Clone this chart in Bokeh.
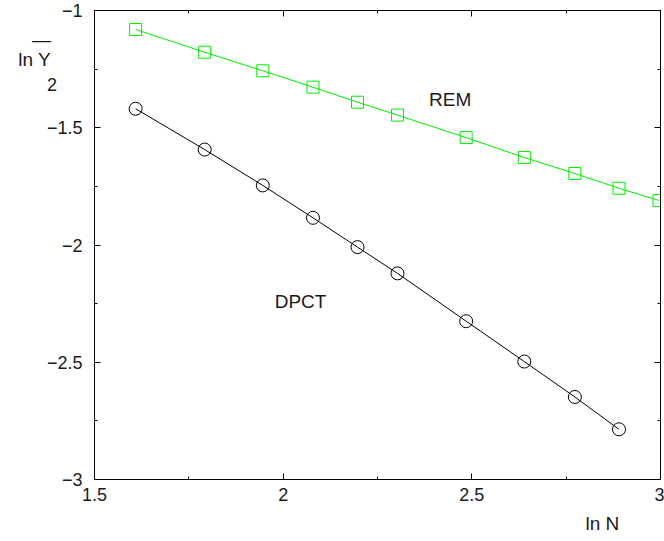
from bokeh.plotting import figure
from bokeh.models import (SingleIntervalTicker, LinearAxis, Label,
                          Range1d, ColumnDataSource, CustomJSTickFormatter, Title)
from bokeh.embed import file_html
from bokeh.resources import INLINE

# ---- data ----
ln_n_rem = [1.609, 1.792, 1.946, 2.079, 2.197, 2.303, 2.485, 2.639, 2.773, 2.890, 2.996]
ln_y2_rem = [-1.081, -1.178, -1.257, -1.327, -1.391, -1.446, -1.542, -1.627, -1.695, -1.758, -1.810]
ln_n_dpct = [1.609, 1.792, 1.946, 2.079, 2.197, 2.303, 2.485, 2.639, 2.773, 2.890]
ln_y2_dpct = [-1.419, -1.593, -1.746, -1.884, -2.009, -2.121, -2.325, -2.497, -2.648, -2.786]

x_ticks = [1.5, 2.0, 2.5, 3.0]
x_tick_labels = ["1.5", "2", "2.5", "3"]
y_ticks = [-3.0, -2.5, -2.0, -1.5, -1.0]
y_tick_labels = ["\u22123", "\u22122.5", "\u22122", "\u22121.5", "\u22121"]

series_rem = "REM"
series_dpct = "DPCT"
x_title = "ln N"
y_title = "\u2014\nln Y"   # bar over the Y, then "ln Y"
y_title_sub = "2"

FONT = "Liberation Sans"
TXT = "#1a1a1a"

p = figure(width=664, height=541, output_backend="svg", toolbar_location=None,
           x_range=Range1d(1.5, 3.0), y_range=Range1d(-3.0, -1.0),
           x_axis_location=None, y_axis_location=None,
           min_border_left=94, min_border_right=4, min_border_top=10,
           min_border_bottom=10)
p.grid.visible = False
p.outline_line_color = "#555555"
p.outline_line_width = 1
p.background_fill_color = "white"
p.border_fill_color = "white"

LABEL_JS = """
for (let i = 0; i < tick_vals.length; i++) {
  if (Math.abs(tick_vals[i] - tick) < 1e-9) return tick_text[i];
}
return '';
"""


def make_axis(tvals, ttext):
    ax = LinearAxis(ticker=SingleIntervalTicker(interval=0.5, num_minor_ticks=2))
    ax.major_tick_in = 6
    ax.major_tick_out = 0
    ax.minor_tick_in = 3
    ax.minor_tick_out = 0
    ax.axis_line_color = "black"
    ax.major_tick_line_color = "black"
    ax.minor_tick_line_color = "black"
    if tvals is not None:
        ax.formatter = CustomJSTickFormatter(args=dict(tick_vals=tvals, tick_text=ttext),
                                             code=LABEL_JS)
        ax.major_label_text_font = FONT
        ax.major_label_text_font_size = "18px"
        ax.major_label_text_color = TXT
    else:
        ax.formatter = CustomJSTickFormatter(code="return '';")
        ax.major_label_standoff = 0
    return ax


xb = make_axis(x_ticks, x_tick_labels)
xb.major_label_standoff = 8
yl = make_axis(y_ticks, y_tick_labels)
yl.major_label_standoff = 12
xt = make_axis(None, None)
yr = make_axis(None, None)
p.add_layout(xb, "below")
p.add_layout(yl, "left")
p.add_layout(xt, "above")
p.add_layout(yr, "right")

# x-axis title as a title below the plot, shifted to the right
p.add_layout(Title(text=x_title, align="left", offset=491, text_font=FONT,
                   text_font_size="19px", text_font_style="normal",
                   text_color=TXT, standoff=15), "below")

src_rem = ColumnDataSource(dict(x=ln_n_rem, y=ln_y2_rem))
src_dpct = ColumnDataSource(dict(x=ln_n_dpct, y=ln_y2_dpct))

GREEN = "#00ee00"
p.line("x", "y", source=src_rem, line_color=GREEN, line_width=1)
p.scatter("x", "y", source=src_rem, marker="square", size=12,
          fill_color=None, line_color=GREEN, line_width=1)
p.line("x", "y", source=src_dpct, line_color="black", line_width=1)
p.scatter("x", "y", source=src_dpct, marker="circle", size=13,
          fill_color=None, line_color="black", line_width=1)


def make_label(x, y, text, size, units="data", align="left", line_height=1.2):
    lab = Label(x=x, y=y, text=text, text_font=FONT, text_font_size=size,
                text_color=TXT, text_baseline="alphabetic", text_align=align,
                text_line_height=line_height)
    if units != "data":
        lab.x_units = units
        lab.y_units = units
    return lab


p.add_layout(make_label(2.3865, -1.3795, series_rem, "19px"))
p.add_layout(make_label(1.9776, -2.2409, series_dpct, "19px"))

# y-axis title, placed in the left side panel (canvas pixel units)
p.add_layout(make_label(50.5, 49, y_title, "19px", units="canvas",
                        align="right", line_height=0.97), "left")
p.add_layout(make_label(46.5, 84, y_title_sub, "18px", units="canvas"), "left")

open("out.html", "w").write(file_html(p, INLINE))
